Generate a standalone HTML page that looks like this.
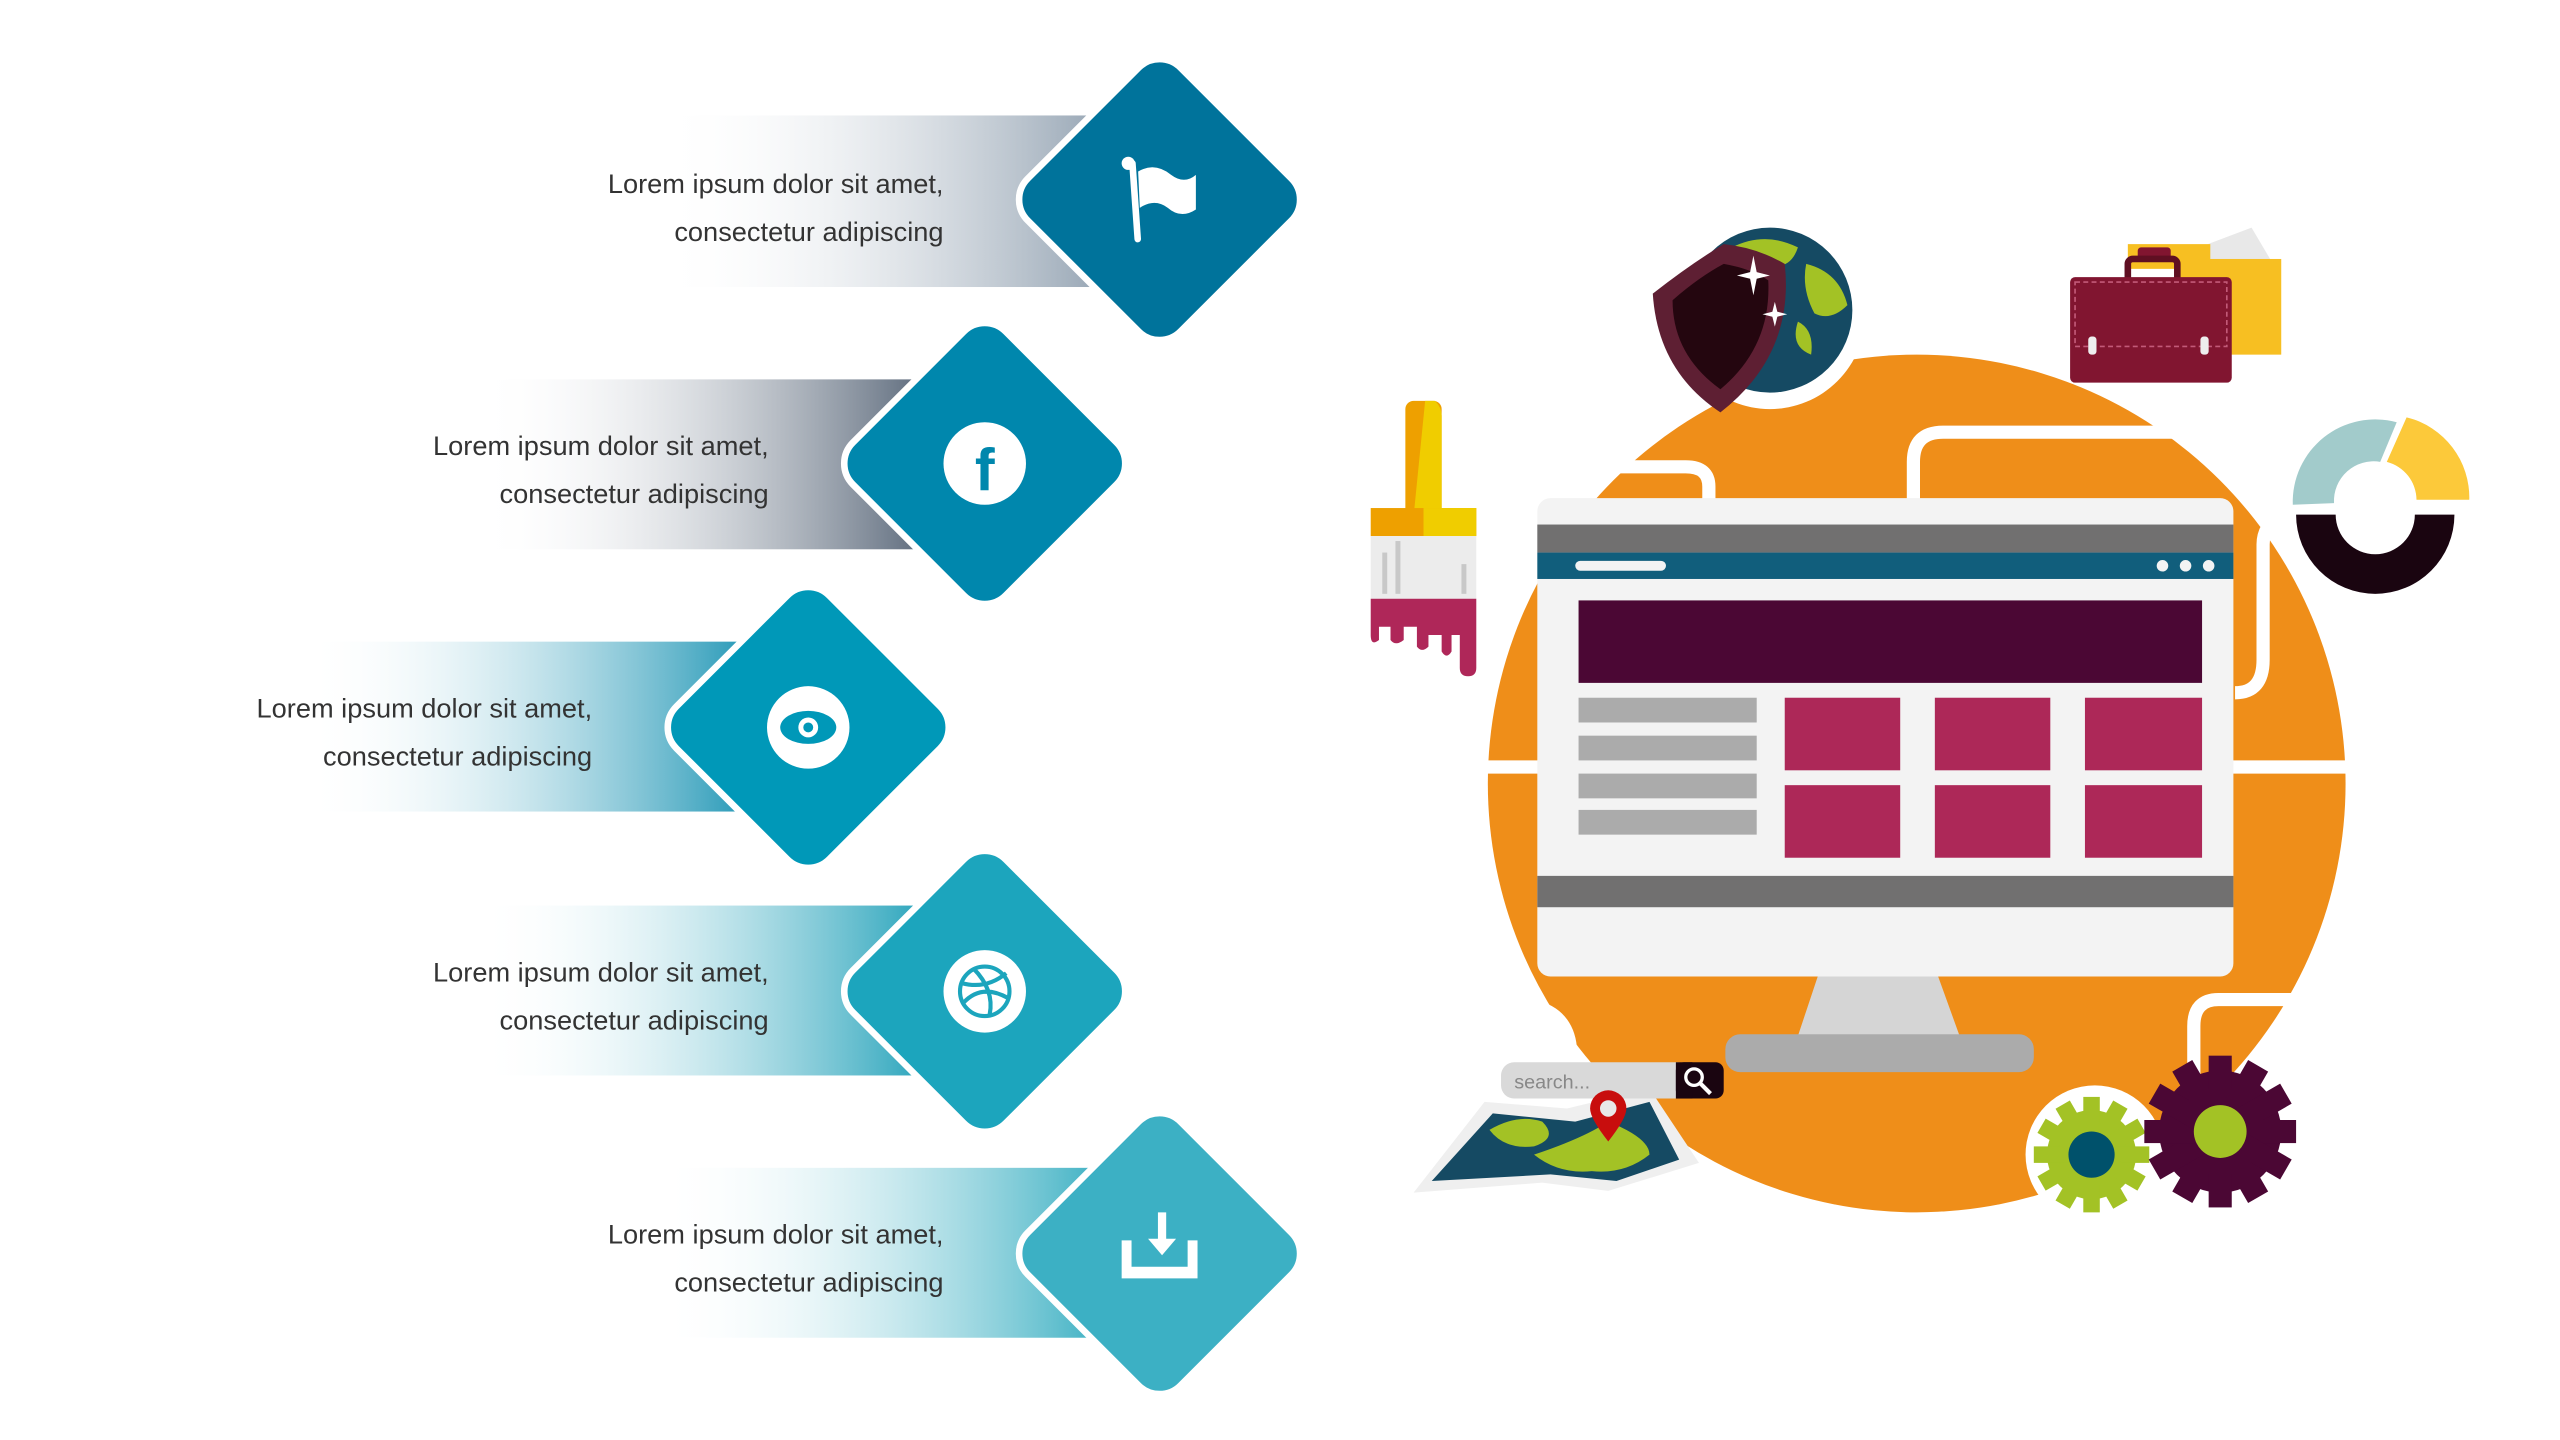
<!DOCTYPE html>
<html><head><meta charset="utf-8"><style>
html,body{margin:0;padding:0;background:#fff;}
svg{display:block;}
text{font-family:"Liberation Sans",sans-serif;}
</style></head><body>
<svg width="2560" height="1440" viewBox="0 0 1552 873" xmlns="http://www.w3.org/2000/svg">
<defs>
<linearGradient id="g1" x1="0" x2="1"><stop offset="0" stop-color="#fff" stop-opacity="0"/><stop offset="1" stop-color="#95a4b3"/></linearGradient>
<linearGradient id="g2" x1="0" x2="1"><stop offset="0" stop-color="#fff" stop-opacity="0"/><stop offset="1" stop-color="#586678"/></linearGradient>
<linearGradient id="g3" x1="0" x2="1"><stop offset="0" stop-color="#fff" stop-opacity="0"/><stop offset="1" stop-color="#1a93b3"/></linearGradient>
<linearGradient id="g4" x1="0" x2="1"><stop offset="0" stop-color="#fff" stop-opacity="0"/><stop offset="1" stop-color="#22a1b9"/></linearGradient>
<linearGradient id="g5" x1="0" x2="1"><stop offset="0" stop-color="#fff" stop-opacity="0"/><stop offset="1" stop-color="#3aafc2"/></linearGradient>
</defs>

<rect x="400" y="70" width="270" height="104" fill="url(#g1)"/>
<rect x="290" y="230" width="275" height="103" fill="url(#g2)"/>
<rect x="185" y="389" width="275" height="103" fill="url(#g3)"/>
<rect x="290" y="549" width="275" height="103" fill="url(#g4)"/>
<rect x="400" y="708" width="270" height="103" fill="url(#g5)"/>

<g stroke="#fff" stroke-width="4">
<rect x="-65.5" y="-65.5" width="131" height="131" rx="18" transform="translate(703,121) rotate(45)" fill="#00739b"/>
<rect x="-65.5" y="-65.5" width="131" height="131" rx="18" transform="translate(597,281) rotate(45)" fill="#0087ad"/>
<rect x="-65.5" y="-65.5" width="131" height="131" rx="18" transform="translate(490,441) rotate(45)" fill="#0098b8"/>
<rect x="-65.5" y="-65.5" width="131" height="131" rx="18" transform="translate(597,601) rotate(45)" fill="#1ca5bd"/>
<rect x="-65.5" y="-65.5" width="131" height="131" rx="18" transform="translate(703,760) rotate(45)" fill="#3cb0c4"/>
</g>

<g fill="#fff">
<rect x="686" y="97" width="4" height="50" rx="2" transform="rotate(-4 688 120)"/>
<circle cx="684" cy="99" r="4"/>
<path d="M690 104 Q700 98 710 106 Q718 112 725 106 L725 127 Q716 133 708 126 Q700 120 691 126 Z"/>
<circle cx="597" cy="281" r="25"/>
<circle cx="490" cy="441" r="25"/>
<circle cx="597" cy="601" r="25"/>
<path d="M702 735 h5 v16 h6 l-8.5 10 l-8.5 -10 h6 Z"/>
<path d="M680 752 h6 v16 h34 v-16 h6 v23 h-46 Z"/>
</g>
<text x="597" y="297" font-size="36" font-weight="bold" fill="#0087ad" text-anchor="middle">f</text>
<ellipse cx="490" cy="441" rx="17" ry="10" fill="#0098b8"/>
<circle cx="490" cy="441" r="6" fill="#fff"/><circle cx="490" cy="441" r="3" fill="#0098b8"/>
<g fill="none" stroke="#1ca5bd" stroke-width="2.5">
<circle cx="597" cy="601" r="15"/>
<path d="M583 596 Q598 600 610 590 M590 587 Q603 600 600 615 M584 608 Q595 596 611 605"/>
</g>

<g font-size="16.5" fill="#333" text-anchor="end">
<text x="572" y="117">Lorem ipsum dolor sit amet,</text>
<text x="572" y="146">consectetur adipiscing</text>
<text x="466" y="276">Lorem ipsum dolor sit amet,</text>
<text x="466" y="305">consectetur adipiscing</text>
<text x="359" y="435">Lorem ipsum dolor sit amet,</text>
<text x="359" y="464">consectetur adipiscing</text>
<text x="466" y="595">Lorem ipsum dolor sit amet,</text>
<text x="466" y="624">consectetur adipiscing</text>
<text x="572" y="754">Lorem ipsum dolor sit amet,</text>
<text x="572" y="783">consectetur adipiscing</text>
</g>

<circle cx="1162" cy="475" r="260" fill="#ef8e19"/>
<g fill="none" stroke="#fff" stroke-width="8">
<path d="M895 465 H940 M1350 465 H1430"/>
<path d="M1036 305 V295 Q1036 283 1022 283 H960"/>
<path d="M1160 305 V280 Q1160 262 1178 262 H1330"/>
<path d="M1355 420 Q1372 420 1372 400 V330 Q1372 318 1385 310"/>
<path d="M1330 660 V622 Q1330 606 1345 606 H1395"/>
<path d="M930 610 Q950 615 952 635"/>
</g>
<circle cx="1073" cy="190" r="58" fill="#fff"/>
<circle cx="1270" cy="700" r="42" fill="#fff"/>

<rect x="932" y="302" width="422" height="290" rx="8" fill="#f3f3f3"/>
<rect x="932" y="318" width="422" height="17" fill="#717070"/>
<rect x="932" y="335" width="422" height="16" fill="#115e7c"/>
<rect x="955" y="340" width="55" height="6" rx="3" fill="#f3f3f3"/>
<circle cx="1311" cy="343" r="3.5" fill="#f3f3f3"/><circle cx="1325" cy="343" r="3.5" fill="#f3f3f3"/><circle cx="1339" cy="343" r="3.5" fill="#f3f3f3"/>
<rect x="957" y="364" width="378" height="50" fill="#4b0734"/>
<g fill="#ababab">
<rect x="957" y="423" width="108" height="15"/><rect x="957" y="446" width="108" height="15"/>
<rect x="957" y="469" width="108" height="15"/><rect x="957" y="491" width="108" height="15"/>
</g>
<g fill="#ad2858">
<rect x="1082" y="423" width="70" height="44"/><rect x="1173" y="423" width="70" height="44"/><rect x="1264" y="423" width="71" height="44"/>
<rect x="1082" y="476" width="70" height="44"/><rect x="1173" y="476" width="70" height="44"/><rect x="1264" y="476" width="71" height="44"/>
</g>
<rect x="932" y="531" width="422" height="19" fill="#717070"/>
<path d="M1102 592 H1175 L1188 628 H1090 Z" fill="#d5d5d5"/>
<rect x="1046" y="627" width="187" height="23" rx="9" fill="#ababab"/>

<circle cx="1073" cy="188" r="50" fill="#154a63"/>
<path d="M1050 150 Q1070 140 1090 150 Q1085 165 1070 160 Q1055 170 1048 160 Z M1095 160 Q1115 165 1120 185 Q1110 195 1100 190 Q1092 175 1095 160 Z M1090 195 Q1100 200 1098 215 Q1085 210 1090 195Z" fill="#a3c225"/>
<path d="M1002 178 Q1025 160 1045 148 Q1065 150 1082 160 Q1088 215 1043 250 Q1005 225 1002 178 Z" fill="#5e1f33"/>
<path d="M1014 182 Q1030 168 1045 160 Q1062 163 1072 170 Q1074 210 1043 236 Q1014 215 1014 182 Z" fill="#24060f"/>
<path d="M1063 155 l2 10 l8 2 l-8 2 l-2 10 l-2-10 l-8-2 l8-2Z M1076 183 l1.5 6 l6 1.5 l-6 1.5 l-1.5 6 l-1.5-6 l-6-1.5 l6-1.5Z" fill="#fff"/>

<path d="M1320 155 L1365 138 L1378 160 L1330 165 Z" fill="#e8e8e8"/>
<rect x="1290" y="148" width="50" height="15" fill="#f7bf22"/>
<rect x="1320" y="157" width="63" height="58" fill="#f7bf22"/>
<rect x="1296" y="150" width="20" height="7" rx="2" fill="#811530"/>
<rect x="1290" y="157" width="30" height="16" rx="3" fill="none" stroke="#5f0f22" stroke-width="4"/>
<rect x="1255" y="168" width="98" height="64" rx="3" fill="#811530"/>
<rect x="1258" y="171" width="92" height="39" fill="none" stroke="#c25a78" stroke-width="1" stroke-dasharray="3 2"/>
<rect x="1266" y="204" width="5" height="11" rx="2" fill="#eee"/><rect x="1334" y="204" width="5" height="11" rx="2" fill="#eee"/>

<path d="M1390 306 A50 50 0 0 1 1453 256 L1443 280 A24 24 0 0 0 1415 305 Z" fill="#a2cbcb"/>
<path d="M1459 253 A50 50 0 0 1 1497 303 L1465 303 A24 24 0 0 0 1447 280 Z" fill="#fcc93a"/>
<path d="M1392 312 L1416 312 A24 24 0 0 0 1464 312 L1488 312 A48 48 0 0 1 1392 312 Z" fill="#1a0510"/>

<rect x="852" y="243" width="22" height="70" rx="5" fill="#eea000"/>
<path d="M864 243 h6 Q874 247 874 252 V313 H857 Z" fill="#f0cd00"/>
<rect x="831" y="308" width="64" height="17" fill="#eea000"/>
<rect x="863" y="308" width="32" height="17" fill="#f0cd00"/>
<rect x="831" y="325" width="64" height="38" fill="#ececec"/>
<rect x="838" y="335" width="3" height="25" fill="#c8c8c8"/><rect x="846" y="328" width="3" height="32" fill="#c8c8c8"/><rect x="886" y="342" width="3" height="18" fill="#c8c8c8"/>
<path d="M831 363 H895 V405 Q895 410 890 410 Q885 410 885 405 V385 H880 V395 Q877 400 874 395 V385 H866 V392 Q862 396 859 392 V380 H851 V388 Q846 392 843 388 V380 H836 V388 Q831 392 831 385 Z" fill="#af2759"/>

<path d="M857 723 L900 668 L950 672 L1000 660 L1030 705 L975 722 L935 717 Z" fill="#efefef"/>
<path d="M868 716 L905 675 L955 680 L1000 668 L1018 703 L980 716 L940 712 Z" fill="#154a63"/>
<path d="M903 685 Q920 675 935 680 Q945 690 930 695 Q912 697 903 685 Z M930 700 Q960 690 975 680 Q1000 690 1000 700 Q985 712 965 710 Q945 712 930 700 Z" fill="#a3c225"/>
<rect x="910" y="644" width="115" height="22" rx="8" fill="#d9d9d9"/>
<rect x="1016" y="644" width="29" height="22" rx="5" fill="#1a0510"/>
<rect x="1016" y="644" width="10" height="22" fill="#1a0510"/>
<circle cx="1027" cy="653" r="5" fill="none" stroke="#fff" stroke-width="2"/>
<path d="M1031 657 L1037 663" stroke="#fff" stroke-width="2.5"/>
<text x="918" y="660" font-size="12" fill="#888">search...</text>
<path d="M975 692 Q964 678 964 672 A11 11 0 0 1 986 672 Q986 678 975 692 Z" fill="#c80d0d"/>
<circle cx="975" cy="672" r="5" fill="#e8e8e8"/>

<g transform="translate(1268,700)">
<g fill="#a3c225">
<circle r="27"/>
<rect x="-5" y="-35" width="10" height="70"/>
<rect x="-5" y="-35" width="10" height="70" transform="rotate(30)"/>
<rect x="-5" y="-35" width="10" height="70" transform="rotate(60)"/>
<rect x="-5" y="-35" width="10" height="70" transform="rotate(90)"/>
<rect x="-5" y="-35" width="10" height="70" transform="rotate(120)"/>
<rect x="-5" y="-35" width="10" height="70" transform="rotate(150)"/>
</g>
<circle r="14" fill="#00516b"/>
</g>
<g transform="translate(1346,686)">
<g fill="#4b0734">
<circle r="37"/>
<rect x="-7" y="-46" width="14" height="92"/>
<rect x="-7" y="-46" width="14" height="92" transform="rotate(30)"/>
<rect x="-7" y="-46" width="14" height="92" transform="rotate(60)"/>
<rect x="-7" y="-46" width="14" height="92" transform="rotate(90)"/>
<rect x="-7" y="-46" width="14" height="92" transform="rotate(120)"/>
<rect x="-7" y="-46" width="14" height="92" transform="rotate(150)"/>
</g>
<circle r="16" fill="#a3c225"/>
</g>
</svg>
</body></html>
